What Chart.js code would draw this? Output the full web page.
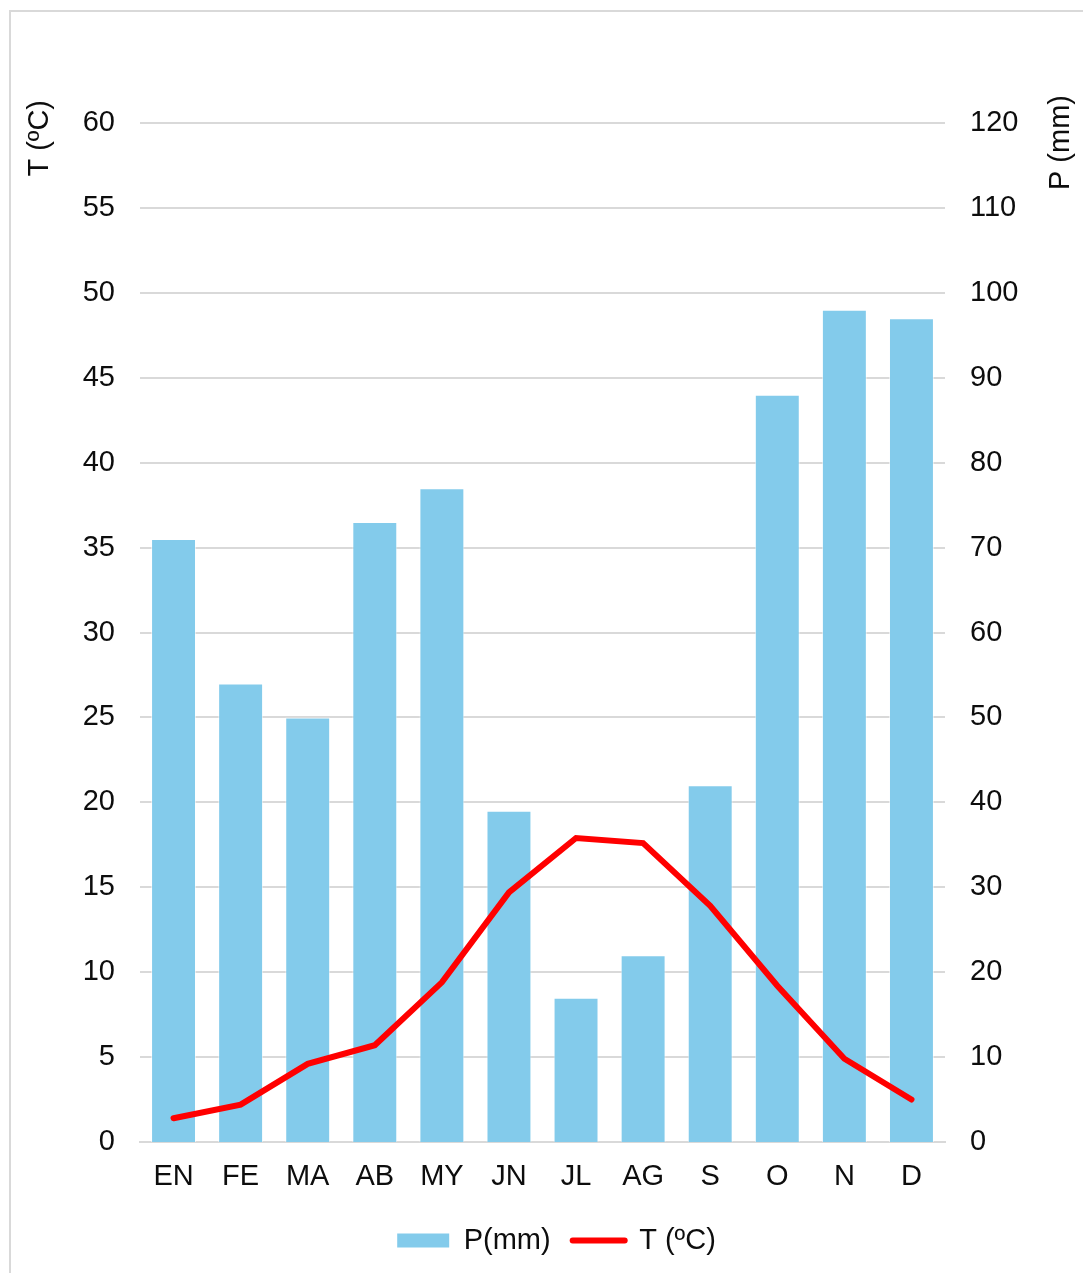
<!DOCTYPE html>
<html>
<head>
<meta charset="utf-8">
<script src="https://cdn.jsdelivr.net/npm/chart.js@4.4.1/dist/chart.umd.min.js"></script>
<style>
  html, body { margin: 0; padding: 0; background: #fff; overflow: hidden; }
  #frame {
    position: absolute; left: 9px; top: 10px; width: 1300px; height: 1400px;
    border-left: 2px solid #d9d9d9; border-top: 2px solid #d9d9d9;
  }
  #c { position: absolute; left: 0; top: 0; }
</style>
</head>
<body>
<div id="frame"></div>
<canvas id="c" width="1083" height="1273"></canvas>
<script>
// Monthly climate data
const months = ['EN', 'FE', 'MA', 'AB', 'MY', 'JN', 'JL', 'AG', 'S', 'O', 'N', 'D'];
const precipitationMm = [71, 54, 50, 73, 77, 39, 17, 22, 42, 88, 98, 97];
const temperatureC = [1.4, 2.2, 4.6, 5.7, 9.4, 14.7, 17.9, 17.6, 13.9, 9.2, 4.9, 2.5];

// Axis ranges
const tempAxis = { min: 0, max: 60, step: 5 };
const precipAxis = { min: 0, max: 120, step: 10 };

const FONT_FAMILY = '"Liberation Sans", Arial, sans-serif';
const FONT_SIZE = 29;
const TEXT = '#0d0d0d';
const GRID = '#d9d9d9';
const BAR_BLUE = '#83cbeb';
const LINE_RED = '#ff0000';
const LINE_WIDTH = 6;

// Rotated axis titles placed at the top of each vertical axis
const axisTitles = {
  id: 'axisTitles',
  afterDraw(chart) {
    const ctx = chart.ctx;
    const top = chart.chartArea.top;
    ctx.save();
    ctx.font = FONT_SIZE + 'px ' + FONT_FAMILY;
    ctx.fillStyle = TEXT;
    ctx.textBaseline = 'middle';
    ctx.textAlign = 'right';

    ctx.save();
    ctx.translate(chart.scales.yT.left + 10, top - 23);
    ctx.rotate(-Math.PI / 2);
    ctx.fillText('T (ºC)', 0, 0);
    ctx.restore();

    ctx.save();
    ctx.translate(chart.scales.yP.right - 22, top - 28);
    ctx.rotate(-Math.PI / 2);
    ctx.fillText('P (mm)', 0, 0);
    ctx.restore();

    ctx.restore();
  }
};

new Chart(document.getElementById('c'), {
  data: {
    labels: months,
    datasets: [
      {
        type: 'bar',
        label: 'P(mm)',
        data: precipitationMm,
        yAxisID: 'yP',
        backgroundColor: BAR_BLUE,
        borderColor: 'rgba(255,255,255,0.55)',
        borderWidth: 1,
        barPercentage: 0.67,
        categoryPercentage: 1,
        order: 2
      },
      {
        type: 'line',
        label: 'T (ºC)',
        data: temperatureC,
        yAxisID: 'yT',
        borderColor: LINE_RED,
        backgroundColor: LINE_RED,
        borderWidth: LINE_WIDTH,
        borderCapStyle: 'round',
        borderJoinStyle: 'miter',
        pointRadius: 0,
        pointHoverRadius: 0,
        tension: 0,
        order: 1
      }
    ]
  },
  options: {
    responsive: false,
    animation: false,
    devicePixelRatio: 1,
    layout: { padding: { left: 30, right: 0, top: 123, bottom: 8 } },
    plugins: {
      tooltip: { enabled: false },
      legend: {
        position: 'bottom',
        labels: {
          usePointStyle: true,
          pointStyleWidth: 52,
          boxHeight: 14,
          padding: 22,
          color: TEXT,
          font: { family: FONT_FAMILY, size: FONT_SIZE },
          sort: (a, b) => a.datasetIndex - b.datasetIndex,
          generateLabels(chart) {
            const items = Chart.defaults.plugins.legend.labels.generateLabels(chart);
            items.forEach(it => {
              const ds = chart.data.datasets[it.datasetIndex];
              if (ds.type === 'line') {
                it.pointStyle = 'line';
                it.lineWidth = LINE_WIDTH;
                it.strokeStyle = ds.borderColor;
                it.lineCap = 'round';
              } else {
                it.pointStyle = 'rect';
                it.lineWidth = 0;
                it.fillStyle = ds.backgroundColor;
                it.strokeStyle = ds.backgroundColor;
              }
            });
            return items;
          }
        }
      }
    },
    scales: {
      x: {
        grid: { display: false, drawTicks: false },
        border: { display: true, color: GRID, width: 2 },
        ticks: { color: TEXT, padding: 18, font: { family: FONT_FAMILY, size: FONT_SIZE } },
        afterFit(scale) { scale.height = 62; }
      },
      yT: {
        type: 'linear',
        position: 'left',
        min: tempAxis.min,
        max: tempAxis.max,
        ticks: { stepSize: tempAxis.step, color: TEXT, padding: 25, font: { family: FONT_FAMILY, size: FONT_SIZE } },
        grid: { color: GRID, lineWidth: 2, drawTicks: false },
        border: { display: false },
        afterFit(scale) { scale.width = 110; }
      },
      yP: {
        type: 'linear',
        position: 'right',
        min: precipAxis.min,
        max: precipAxis.max,
        ticks: { stepSize: precipAxis.step, color: TEXT, padding: 25, font: { family: FONT_FAMILY, size: FONT_SIZE } },
        grid: { display: false, drawTicks: false },
        border: { display: false },
        afterFit(scale) { scale.width = 138; }
      }
    }
  },
  plugins: [axisTitles]
});
</script>
</body>
</html>
